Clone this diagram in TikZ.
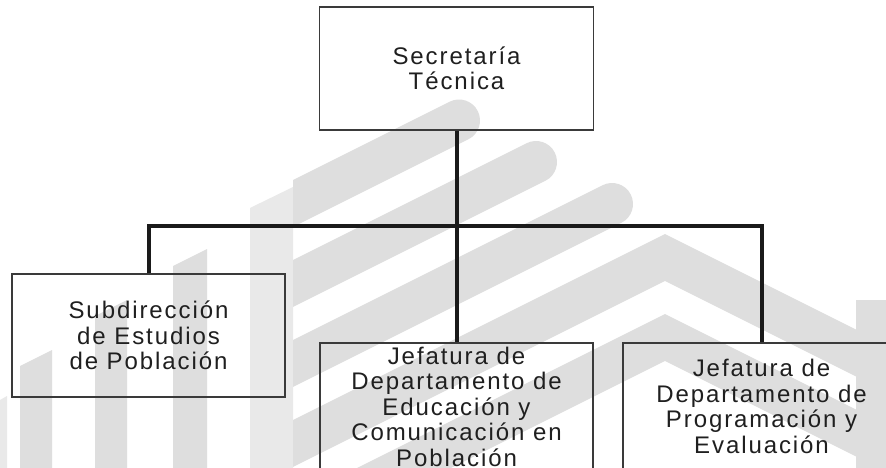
\documentclass[tikz,border=0pt]{standalone}
\usepackage{fontspec}
\setmainfont{Liberation Sans}[LetterSpace=8]
\definecolor{wm}{HTML}{DEDEDE}
\definecolor{wml}{HTML}{E9E9E9}
\definecolor{boxline}{HTML}{3A3A3A}
\definecolor{connline}{HTML}{1A1A1A}
\tikzset{
  orgbox/.style={draw=boxline, line width=1.1pt, inner sep=0pt, align=center,
    font=\fontsize{24}{25.5}\selectfont, text=black!88},
  conn/.style={draw=connline, line width=4pt, line join=miter},
  band/.style={draw=wm, line width=42pt, line cap=round},
  chev/.style={draw=wm, line width=42pt, line join=miter}
}
\begin{document}
\begin{tikzpicture}[x=1pt,y=-1pt]
\useasboundingbox (0,0) rectangle (886,468);
\clip (0,0) rectangle (886,468);
\fill[white] (0,0) rectangle (886,468);
% watermark: left legs
\fill[wml] (250,208) -- (293,187) -- (293,468) -- (250,468) -- cycle;
\fill[wm] (173,266) -- (207,249) -- (207,468) -- (173,468) -- cycle;
\fill[wm] (95,316) -- (127,300) -- (127,468) -- (95,468) -- cycle;
\fill[wm] (20,366) -- (52,350) -- (52,468) -- (20,468) -- cycle;
\fill[wml] (0,400) -- (7,396) -- (7,468) -- (0,468) -- cycle;
% watermark: diagonal bands and chevrons
\begin{scope}
\clip (293,0) rectangle (886,468);
\draw[band] (280,210) -- (459,120.5);
\draw[band] (280,290) -- (536,162);
\draw[band] (280,370) -- (612,204);
\draw[chev] (280,450) -- (665,257.5) -- (900,375);
\draw[chev] (280,530) -- (665,337.5) -- (900,455);
\end{scope}
\fill[wm] (856,300) rectangle (886,468);
% boxes
\node[orgbox, minimum width=274pt, minimum height=123pt] (top) at (456.5,68.5) {Secretaría\\Técnica};
\node[orgbox, minimum width=273pt, minimum height=123pt] (sub) at (148.5,335.5) {Subdirección\\de Estudios\\de Población};
\node[orgbox, minimum width=273pt, minimum height=127pt] (edu) at (456.5,406.5) {Jefatura de\\Departamento de\\Educación y\\Comunicación en\\Población};
\node[orgbox, minimum width=277pt, minimum height=127pt] (prog) at (761.5,406.5) {Jefatura de\\Departamento de\\Programación y\\Evaluación};
% connectors
\coordinate (junc) at (456.5,226);
\draw[conn] (top.south) -- (edu.north);
\draw[conn] (sub.north) -- (sub.north |- junc) -- (prog.north |- junc) -- (prog.north);
\end{tikzpicture}
\end{document}
